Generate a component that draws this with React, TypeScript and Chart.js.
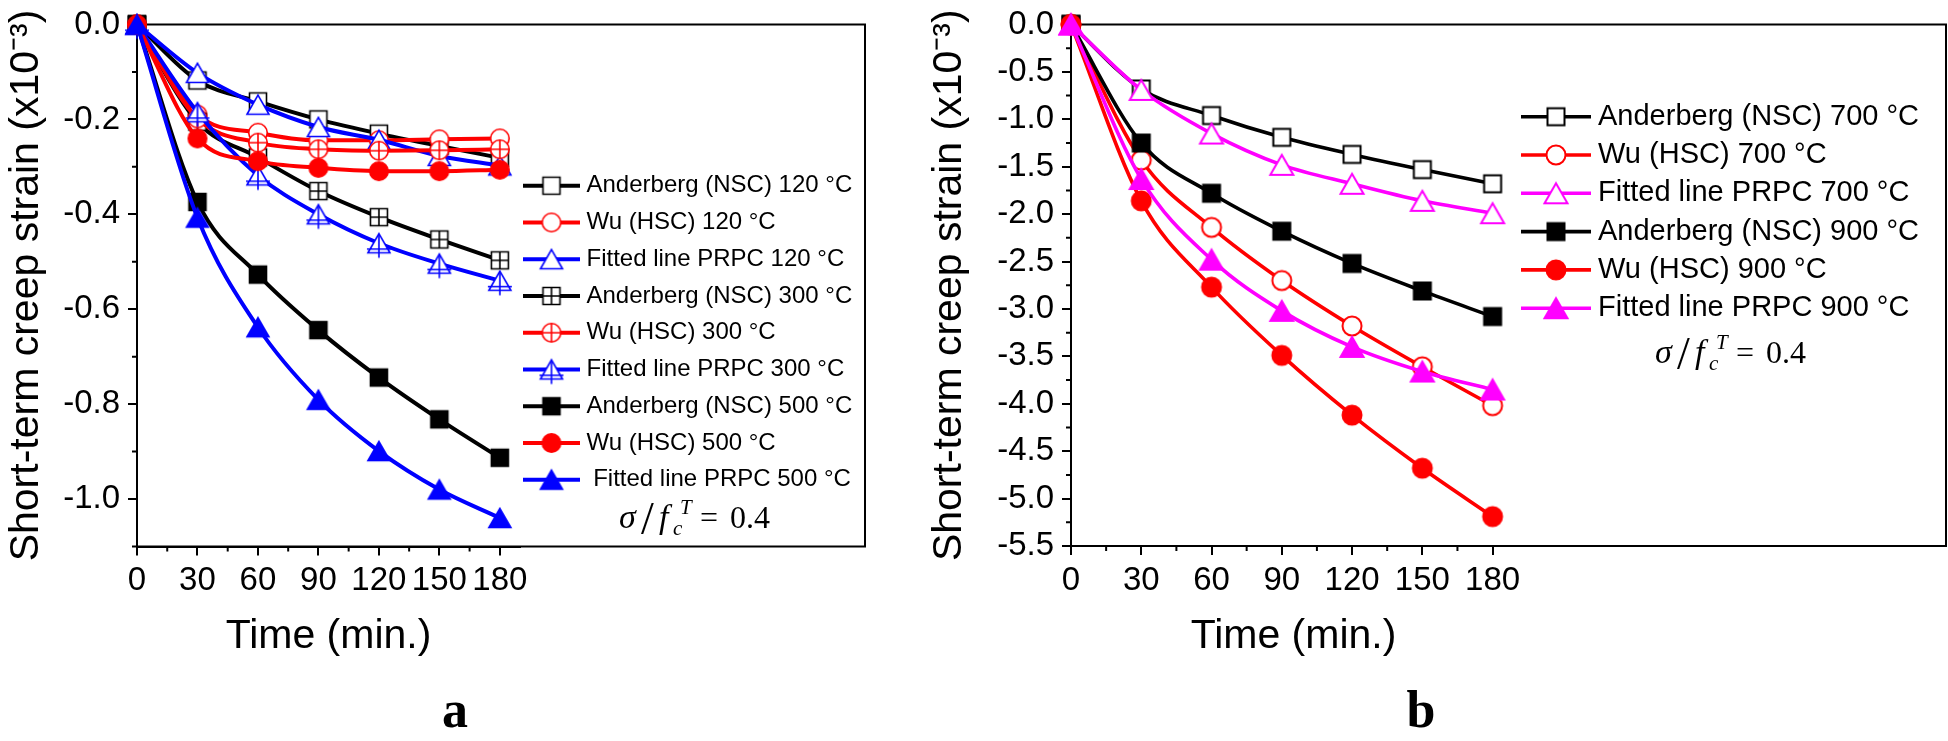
import React, { useEffect, useRef } from 'react';
import { Chart, registerables } from 'chart.js';

Chart.register(...registerables);

// ---------------- data ----------------
const TIME_MIN = [0, 30, 60, 90, 120, 150, 180];
const X_TICKS = [0, 30, 60, 90, 120, 150, 180];
const X_MINOR = [15, 45, 75, 105, 135, 165];
const Y_TICKS_A = [0, -0.2, -0.4, -0.6, -0.8, -1.0];
const Y_MINOR_A = [-0.1, -0.3, -0.5, -0.7, -0.9, -1.1];
const Y_TICKS_B = [0, -0.5, -1, -1.5, -2, -2.5, -3, -3.5, -4, -4.5, -5, -5.5];
const Y_MINOR_B = [-0.25, -0.75, -1.25, -1.75, -2.25, -2.75, -3.25, -3.75, -4.25, -4.75, -5.25];

const LABELS_A = [
  'Anderberg (NSC) 120 °C',
  'Wu (HSC) 120 °C',
  'Fitted line PRPC 120 °C',
  'Anderberg (NSC) 300 °C',
  'Wu (HSC) 300 °C',
  'Fitted line PRPC 300 °C',
  'Anderberg (NSC) 500 °C',
  'Wu (HSC) 500 °C',
  ' Fitted line PRPC 500 °C',
];
const A_ANDERBERG_120 = [0, -0.118, -0.162, -0.200, -0.230, -0.256, -0.281];
const A_WU_120 = [0, -0.190, -0.228, -0.244, -0.244, -0.242, -0.240];
const A_FITTED_120 = [0, -0.102, -0.169, -0.216, -0.243, -0.277, -0.297];
const A_ANDERBERG_300 = [0, -0.205, -0.280, -0.351, -0.406, -0.453, -0.497];
const A_WU_300 = [0, -0.198, -0.249, -0.263, -0.266, -0.265, -0.263];
const A_FITTED_300 = [0, -0.185, -0.318, -0.400, -0.461, -0.504, -0.540];
const A_ANDERBERG_500 = [0, -0.374, -0.527, -0.644, -0.744, -0.832, -0.913];
const A_WU_500 = [0, -0.240, -0.288, -0.302, -0.309, -0.309, -0.306];
const A_FITTED_500 = [0, -0.407, -0.638, -0.791, -0.899, -0.980, -1.040];

const LABELS_B = [
  'Anderberg (NSC) 700 °C',
  'Wu (HSC) 700 °C',
  'Fitted line PRPC 700 °C',
  'Anderberg (NSC) 900 °C',
  'Wu (HSC) 900 °C',
  'Fitted line PRPC 900 °C',
];
const B_ANDERBERG_700 = [0, -0.68, -0.96, -1.19, -1.37, -1.53, -1.68];
const B_WU_700 = [0, -1.43, -2.14, -2.70, -3.18, -3.61, -4.02];
const B_FITTED_700 = [0, -0.69, -1.15, -1.48, -1.68, -1.86, -1.99];
const B_ANDERBERG_900 = [0, -1.25, -1.78, -2.18, -2.52, -2.81, -3.08];
const B_WU_900 = [0, -1.86, -2.77, -3.49, -4.12, -4.68, -5.19];
const B_FITTED_900 = [0, -1.63, -2.48, -3.02, -3.40, -3.66, -3.85];

const X_TITLE = 'Time (min.)';
const Y_TITLE = 'Short-term creep strain (x10\u207B\u00B3)';

// ---------------- styles ----------------
const FONT = "'Liberation Sans', Arial, Helvetica, sans-serif";
const SERIF = "'Liberation Serif', 'Times New Roman', Times, serif";
const BLACK = '#000000';
const RED = '#ff0000';
const BLUE = '#0000ff';
const MAGENTA = '#ff00ff';

const STYLE_A = [
  { color: BLACK, marker: 'sq-open' },
  { color: RED, marker: 'ci-open' },
  { color: BLUE, marker: 'tr-open' },
  { color: BLACK, marker: 'sq-plus' },
  { color: RED, marker: 'ci-plus' },
  { color: BLUE, marker: 'tr-plus' },
  { color: BLACK, marker: 'sq-fill' },
  { color: RED, marker: 'ci-fill' },
  { color: BLUE, marker: 'tr-fill' },
];
const STYLE_B = [
  { color: BLACK, marker: 'sq-open' },
  { color: RED, marker: 'ci-open' },
  { color: MAGENTA, marker: 'tr-open' },
  { color: BLACK, marker: 'sq-fill' },
  { color: RED, marker: 'ci-fill' },
  { color: MAGENTA, marker: 'tr-fill' },
];

type Sizes = { sq: number; ci: number; tr: number };

function makeMarker(kind: string, color: string, s: Sizes, lw: number): HTMLCanvasElement {
  const c = document.createElement('canvas');
  const S = 40;
  c.width = S;
  c.height = S;
  const g = c.getContext('2d')!;
  const cx = S / 2;
  const cy = S / 2;
  const [shape, style] = kind.split('-');
  g.lineWidth = lw;
  g.strokeStyle = color;
  g.fillStyle = style === 'fill' ? color : '#ffffff';
  g.lineJoin = 'miter';
  g.beginPath();
  const w = s.tr;
  const h = w * 0.87;
  if (shape === 'sq') {
    const a = s.sq;
    g.rect(cx - a / 2, cy - a / 2, a, a);
  } else if (shape === 'ci') {
    g.arc(cx, cy, s.ci / 2, 0, Math.PI * 2);
  } else {
    g.moveTo(cx, cy - h / 2);
    g.lineTo(cx + w / 2, cy + h / 2);
    g.lineTo(cx - w / 2, cy + h / 2);
    g.closePath();
  }
  g.fill();
  g.stroke();
  if (style === 'plus') {
    g.beginPath();
    if (shape === 'sq') {
      const a = s.sq / 2;
      g.moveTo(cx - a, cy); g.lineTo(cx + a, cy);
      g.moveTo(cx, cy - a); g.lineTo(cx, cy + a);
    } else if (shape === 'ci') {
      const r = s.ci / 2;
      g.moveTo(cx - r, cy); g.lineTo(cx + r, cy);
      g.moveTo(cx, cy - r); g.lineTo(cx, cy + r);
    } else {
      g.moveTo(cx, cy - h / 2); g.lineTo(cx, cy + h / 2 + 5);
      g.moveTo(cx - w / 2 - 1, cy + h * 0.3); g.lineTo(cx + w / 2 + 1, cy + h * 0.3);
    }
    g.stroke();
  }
  return c;
}

function drawFormula(ctx: CanvasRenderingContext2D, x: number, y: number) {
  ctx.save();
  ctx.fillStyle = '#000';
  ctx.textBaseline = 'alphabetic';
  ctx.textAlign = 'left';
  ctx.font = `italic 34px ${SERIF}`;
  ctx.fillText('σ', x, y);
  ctx.font = `46px ${SERIF}`;
  ctx.fillText('/', x + 22, y + 6);
  ctx.font = `italic 34px ${SERIF}`;
  ctx.fillText('f', x + 40, y);
  ctx.font = `italic 21px ${SERIF}`;
  ctx.fillText('c', x + 54, y + 7);
  ctx.fillText('T', x + 61, y - 14);
  ctx.font = `32px ${SERIF}`;
  ctx.fillText('=', x + 81, y);
  ctx.fillText('0.4', x + 111, y);
  ctx.restore();
}

const decorPlugin = {
  id: 'decor',
  beforeDatasetsDraw(chart: any, _args: any, o: any) {
    const { ctx, chartArea: ca, scales } = chart;
    ctx.save();
    ctx.strokeStyle = '#000';
    ctx.lineWidth = 2;
    ctx.strokeRect(ca.left, ca.top, o.frameRight - ca.left, ca.bottom - ca.top);
    ctx.beginPath();
    for (const v of o.xMinor) {
      const px = scales.x.getPixelForValue(v);
      ctx.moveTo(px, ca.bottom);
      ctx.lineTo(px, ca.bottom + 5);
    }
    for (const v of o.yMinor) {
      const py = scales.y.getPixelForValue(v);
      ctx.moveTo(ca.left - 5, py);
      ctx.lineTo(ca.left, py);
    }
    ctx.stroke();
    ctx.restore();
  },
  afterDraw(chart: any, _args: any, o: any) {
    const { ctx } = chart;
    const L = o.legend;
    ctx.save();
    chart.data.datasets.forEach((ds: any, i: number) => {
      const y = L.top + i * L.spacing;
      ctx.strokeStyle = ds.borderColor;
      ctx.lineWidth = ds.borderWidth;
      ctx.beginPath();
      ctx.moveTo(L.lineX0, y);
      ctx.lineTo(L.lineX1, y);
      ctx.stroke();
      const img = ds.pointStyle as HTMLCanvasElement;
      ctx.drawImage(img, L.markerX - img.width / 2, y - img.height / 2);
      ctx.fillStyle = '#000';
      ctx.font = `${L.font}px ${FONT}`;
      ctx.textBaseline = 'middle';
      ctx.textAlign = 'left';
      ctx.fillText(ds.label, L.textX, y);
    });
    drawFormula(ctx, o.formula.x, o.formula.y);
    ctx.fillStyle = '#000';
    ctx.font = `bold 52px ${SERIF}`;
    ctx.textAlign = 'center';
    ctx.textBaseline = 'alphabetic';
    ctx.fillText(o.tag.text, o.tag.x, o.tag.y);
    ctx.restore();
  },
};

const PANEL_A = {
  width: 900,
  height: 741,
  offsetX: 0,
  plot: { left: 137, right: 520, top: 19.5, bottom: 546.5 },
  frameRight: 865,
  yMin: -1.1,
  yTicks: Y_TICKS_A,
  yMinor: Y_MINOR_A,
  yTitlePad: 2,
  labels: LABELS_A,
  series: [A_ANDERBERG_120, A_WU_120, A_FITTED_120, A_ANDERBERG_300, A_WU_300, A_FITTED_300, A_ANDERBERG_500, A_WU_500, A_FITTED_500],
  styles: STYLE_A,
  legend: { top: 185.7, spacing: 36.75, lineX0: 523, lineX1: 580, markerX: 551.5, textX: 586.5, font: 24 },
  formula: { x: 619, y: 527.7 },
  tag: { text: 'a', x: 455, y: 727 },
  sizes: { sq: 17, ci: 18.5, tr: 22 },
  markerLw: 1.6,
  lineWidth: 4,
};

const PANEL_B = {
  width: 1048,
  height: 741,
  offsetX: 900,
  plot: { left: 171, right: 616, top: 19.5, bottom: 546 },
  frameRight: 1046,
  yMin: -5.5,
  yTicks: Y_TICKS_B,
  yMinor: Y_MINOR_B,
  yTitlePad: 25,
  labels: LABELS_B,
  series: [B_ANDERBERG_700, B_WU_700, B_FITTED_700, B_ANDERBERG_900, B_WU_900, B_FITTED_900],
  styles: STYLE_B,
  legend: { top: 116.7, spacing: 38.3, lineX0: 621, lineX1: 691, markerX: 656, textX: 698, font: 29 },
  formula: { x: 755, y: 363 },
  tag: { text: 'b', x: 521, y: 727 },
  sizes: { sq: 17, ci: 19, tr: 23 },
  markerLw: 2,
  lineWidth: 3.6,
};

function buildConfig(p: any): any {
  const n = p.series.length;
  const datasets = p.series.map((vals: number[], i: number) => ({
    label: p.labels[i],
    data: TIME_MIN.map((t, k) => ({ x: t, y: vals[k] })),
    borderColor: p.styles[i].color,
    backgroundColor: p.styles[i].color,
    borderWidth: p.lineWidth,
    borderCapStyle: 'round',
    borderJoinStyle: 'round',
    pointStyle: makeMarker(p.styles[i].marker, p.styles[i].color, p.sizes, p.markerLw),
    pointRadius: 9,
    pointHoverRadius: 9,
    cubicInterpolationMode: 'monotone',
    fill: false,
    clip: false,
    order: n - i,
  }));
  const tickFont = { family: FONT, size: 33, lineHeight: 1 };
  const titleFont = { family: FONT, size: 41, lineHeight: 1.2 };
  return {
    type: 'line',
    data: { datasets },
    options: {
      animation: false,
      responsive: false,
      maintainAspectRatio: false,
      events: [],
      layout: {
        padding: { left: 0, top: p.plot.top, right: p.width - p.plot.right, bottom: 0 },
      },
      plugins: {
        legend: { display: false },
        tooltip: { enabled: false },
        decor: {
          frameRight: p.frameRight,
          xMinor: X_MINOR,
          yMinor: p.yMinor,
          legend: p.legend,
          formula: p.formula,
          tag: p.tag,
        },
      },
      scales: {
        x: {
          type: 'linear',
          min: 0,
          max: 190,
          afterBuildTicks: (s: any) => {
            s.ticks = X_TICKS.map((v) => ({ value: v }));
          },
          afterFit: (s: any) => {
            s.height = p.height - p.plot.bottom;
          },
          grid: { drawOnChartArea: false, drawTicks: true, tickLength: 9, color: '#000', lineWidth: 2 },
          border: { display: true, color: '#000', width: 2 },
          ticks: {
            font: tickFont,
            color: '#000',
            padding: 9,
            maxRotation: 0,
            autoSkip: false,
            callback: (v: any) => String(v),
          },
          title: {
            display: true,
            text: X_TITLE,
            color: '#000',
            font: titleFont,
            padding: { top: 0, bottom: 80 },
          },
        },
        y: {
          type: 'linear',
          min: p.yMin,
          max: 0,
          afterBuildTicks: (s: any) => {
            s.ticks = p.yTicks.map((v: number) => ({ value: v }));
          },
          afterFit: (s: any) => {
            s.width = p.plot.left;
          },
          grid: { drawOnChartArea: false, drawTicks: true, tickLength: 9, color: '#000', lineWidth: 2 },
          border: { display: true, color: '#000', width: 2 },
          ticks: {
            font: tickFont,
            color: '#000',
            padding: 8,
            autoSkip: false,
            callback: (v: any) => Number(v).toFixed(1),
          },
          title: {
            display: true,
            text: Y_TITLE,
            color: '#000',
            font: titleFont,
            padding: { top: p.yTitlePad, bottom: 0 },
          },
        },
      },
    },
    plugins: [decorPlugin],
  };
}

function Panel({ cfg }: { cfg: any }) {
  const ref = useRef<HTMLCanvasElement>(null);
  useEffect(() => {
    const chart = new Chart(ref.current as HTMLCanvasElement, buildConfig(cfg));
    return () => chart.destroy();
  }, [cfg]);
  return (
    <canvas
      ref={ref}
      width={cfg.width}
      height={cfg.height}
      style={{ position: 'absolute', left: cfg.offsetX, top: 0, width: cfg.width, height: cfg.height, display: 'block' }}
    />
  );
}

export default function App() {
  return (
    <div style={{ position: 'absolute', left: 0, top: 0, width: 1948, height: 741, background: '#fff', overflow: 'hidden' }}>
      <Panel cfg={PANEL_A} />
      <Panel cfg={PANEL_B} />
    </div>
  );
}
